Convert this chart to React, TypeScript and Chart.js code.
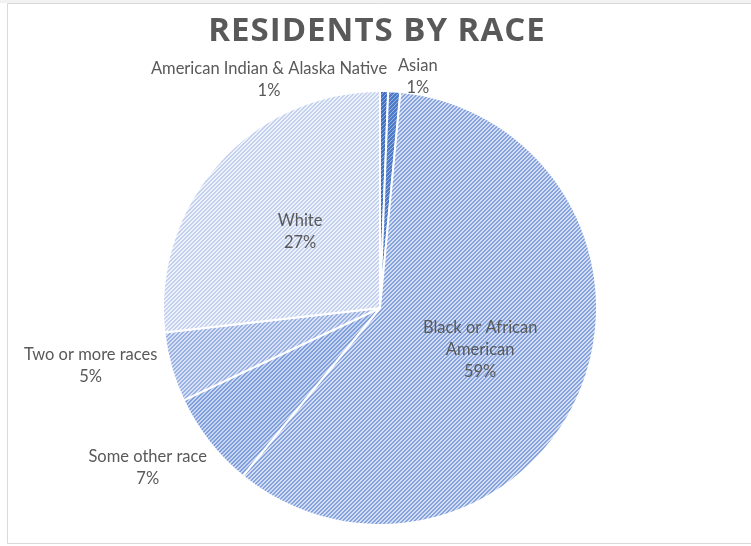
import React, { useEffect, useRef } from "react";
import { Chart, registerables } from "chart.js";

Chart.register(...registerables);

// ---------- data ----------
const TITLE = "RESIDENTS BY RACE";
const categories = [
  "American Indian & Alaska Native",
  "Asian",
  "Black or African American",
  "Some other race",
  "Two or more races",
  "White",
];
const values = [0.6, 0.9, 59.4, 7.1, 5.2, 26.8];
// how each category name is wrapped in its data label
const labelLines = [
  ["American Indian & Alaska Native"],
  ["Asian"],
  ["Black or African", "American"],
  ["Some other race"],
  ["Two or more races"],
  ["White"],
];

// ---------- style ----------
// label placement: fraction of radius, angular shift (deg) from slice middle
const LABEL_RADIUS = [1.17, 1.08, 0.5, 1.3, 1.36, 0.51];
const LABEL_SHIFT = [-27, 5.5, 0.3, 3.4, 4.5, 2];
// pattern: [background, stripe, stripe width of a 4px period]
const PATTERNS: [string, string, number][] = [
  ["#4170c4", "#8eaadb", 1],
  ["#4f7cca", "#9ab3e0", 1],
  ["#d3def4", "#86a3dd", 2],
  ["#c9d6f1", "#7f9edc", 2],
  ["#d8e1f5", "#98b0e2", 2],
  ["#eef2fa", "#c4d1ee", 2],
];
const TEXT_COLOR = "#595959";
const LABEL_FONT = "16.5px Lato";
const LINE_H = 22;

function makePattern(bg: string, fg: string, w: number): CanvasPattern | string {
  const size = 4;
  const c = document.createElement("canvas");
  c.width = size;
  c.height = size;
  const g = c.getContext("2d");
  if (!g) return bg;
  g.fillStyle = bg;
  g.fillRect(0, 0, size, size);
  g.fillStyle = fg;
  for (let y = 0; y < size; y++) {
    for (let x = 0; x < size; x++) {
      const d = (x + y) % size;
      if (d >= size - w) g.fillRect(x, y, 1, 1);
    }
  }
  const p = g.createPattern(c, "repeat");
  return p || bg;
}

const framePlugin = {
  id: "frame",
  beforeDraw(chart: any) {
    const { ctx, width, height } = chart;
    ctx.save();
    ctx.fillStyle = "#ffffff";
    ctx.fillRect(0, 0, width, height);
    ctx.fillStyle = "#f2f2f2";
    ctx.fillRect(0, 0, width, 3);
    ctx.strokeStyle = "#d9d9d9";
    ctx.lineWidth = 1;
    ctx.beginPath();
    ctx.moveTo(7.5, 3.5);
    ctx.lineTo(7.5, height - 2.5);
    ctx.lineTo(width, height - 2.5);
    ctx.moveTo(7.5, 3.5);
    ctx.lineTo(width, 3.5);
    ctx.stroke();
    // title
    ctx.fillStyle = TEXT_COLOR;
    ctx.font = "bold 33px 'Open Sans'";
    ctx.textAlign = "center";
    ctx.textBaseline = "middle";
    (ctx as any).letterSpacing = "1px";
    ctx.fillText(TITLE, 377, 32);
    ctx.restore();
  },
};

const labelPlugin = {
  id: "sliceLabels",
  afterDatasetsDraw(chart: any) {
    const ctx = chart.ctx;
    const meta = chart.getDatasetMeta(0);
    const data: number[] = chart.data.datasets[0].data;
    const total = data.reduce((a, b) => a + b, 0);
    ctx.save();
    ctx.font = LABEL_FONT;
    ctx.fillStyle = TEXT_COLOR;
    ctx.textAlign = "center";
    ctx.textBaseline = "middle";
    meta.data.forEach((arc: any, i: number) => {
      const { x, y, startAngle, endAngle, outerRadius } = arc.getProps(
        ["x", "y", "startAngle", "endAngle", "outerRadius"],
        true
      );
      const a = (startAngle + endAngle) / 2 + (LABEL_SHIFT[i] * Math.PI) / 180;
      const r = outerRadius * LABEL_RADIUS[i];
      const cx = x + Math.cos(a) * r;
      const cy = y + Math.sin(a) * r;
      const lines = [...labelLines[i], Math.round((data[i] / total) * 100) + "%"];
      lines.forEach((t, k) => {
        ctx.fillText(t, cx, cy + (k - (lines.length - 1) / 2) * LINE_H);
      });
    });
    ctx.restore();
  },
};

export default function App() {
  const ref = useRef<HTMLCanvasElement>(null);
  useEffect(() => {
    if (!ref.current) return;
    const chart = new Chart(ref.current, {
      type: "pie",
      data: {
        labels: categories,
        datasets: [
          {
            data: values,
            backgroundColor: PATTERNS.map(([b, f, w]) => makePattern(b, f, w)) as any,
            borderColor: "#ffffff",
            borderWidth: 2,
          },
        ],
      },
      options: {
        responsive: false,
        animation: false,
        devicePixelRatio: 1,
        layout: { padding: { top: 90, bottom: 20, left: 9, right: 0 } },
        plugins: {
          legend: { display: false },
          title: { display: false },
          tooltip: { enabled: false },
        },
      },
      plugins: [framePlugin, labelPlugin],
    });
    return () => chart.destroy();
  }, []);
  return (
    <div style={{ position: "fixed", left: 0, top: 0, width: 751, height: 546, background: "#fff" }}>
      <canvas ref={ref} width={751} height={546} />
    </div>
  );
}
